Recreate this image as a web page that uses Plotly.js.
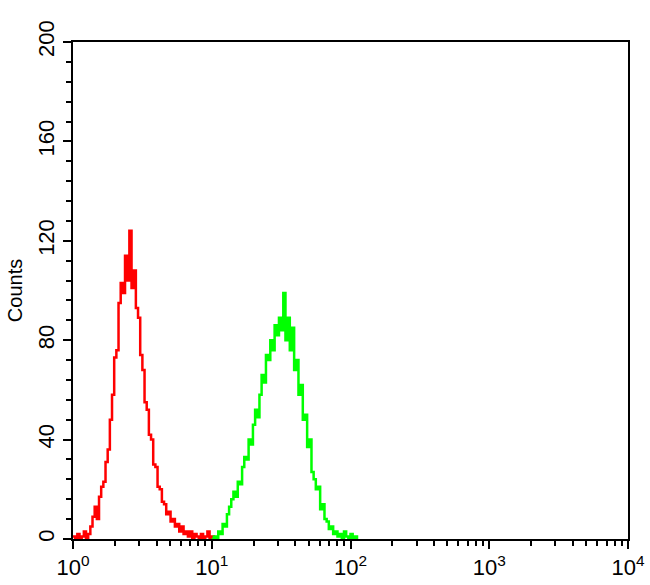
<!DOCTYPE html>
<html>
<head>
<meta charset="utf-8">
<script src="https://cdn.plot.ly/plotly-3.0.1.min.js"></script>
<style>html,body{margin:0;padding:0;background:#fff;}#chart{width:650px;height:585px;}</style>
</head>
<body>
<div id="chart"></div>
<script>
// Flow cytometry histogram: counts per channel, 256 channels spanning 10^0 .. 10^4
const channelsPerDecade = 64;
const decadeLabels = ["10<sup>0</sup>", "10<sup>1</sup>", "10<sup>2</sup>", "10<sup>3</sup>", "10<sup>4</sup>"];
const yLabels = [0, 40, 80, 120, 160, 200];

// Red (control) histogram, starting at channel 0
const redStart = 0;
const redCounts = [1,0,2,0,1,3,0,2,5,9,13,8,17,21,23,31,36,48,58,73,76,95,103,99,114,104,124,101,108,93,89,74,68,55,52,42,40,30,29,21,20,15,14,10,11,7,8,5,6,3,5,2,3,1,3,0,2,1,0,2,0,1,3,0,1,0,0];

// Green (antibody) histogram, starting at channel 64
const greenStart = 64;
const greenCounts = [0,1,0,3,2,6,5,10,13,16,19,17,23,22,29,33,32,40,38,46,52,49,58,66,63,74,72,80,76,86,82,89,84,99,80,89,76,85,68,72,58,62,48,50,37,40,27,24,20,21,12,14,8,7,4,5,2,3,1,2,0,3,1,0,2,0,1,0];

const nDecades = decadeLabels.length - 1;
const xMajor = [], xMinor = [];
for (let d = 0; d <= nDecades; d++) {
  xMajor.push(d * channelsPerDecade);
  if (d < nDecades) for (let k = 2; k <= 9; k++) xMinor.push(channelsPerDecade * (d + Math.log10(k)));
}
const yMinor = [];
for (let v = 0; v <= 200; v += 8) if (v % 40 !== 0) yMinor.push(v);

const traces = [
  {type: 'scatter', mode: 'lines', x0: redStart, dx: 1, y: redCounts,
   line: {color: 'rgb(255,0,0)', width: 2.5, shape: 'hv'}, hoverinfo: 'skip'},
  {type: 'scatter', mode: 'lines', x0: greenStart, dx: 1, y: greenCounts,
   line: {color: 'rgb(0,255,0)', width: 2.5, shape: 'hv'}, hoverinfo: 'skip'}
];

const font = 'Liberation Sans, Arial, sans-serif';
const layout = {
  width: 650, height: 585,
  margin: {l: 73, r: 22, t: 42, b: 46},
  paper_bgcolor: '#fff', plot_bgcolor: '#fff',
  showlegend: false,
  font: {family: font, color: '#000'},
  xaxis: {
    range: [0, nDecades * channelsPerDecade], showgrid: false, zeroline: false,
    showline: true, linecolor: '#000', linewidth: 2, mirror: true,
    tickmode: 'array', tickvals: xMajor, ticktext: decadeLabels,
    ticks: 'outside', ticklen: 8, tickwidth: 2, tickcolor: '#000',
    tickfont: {family: font, size: 22, color: '#000'},
    minor: {tickmode: 'array', tickvals: xMinor, ticks: 'outside', ticklen: 5, tickwidth: 2, tickcolor: '#000', showgrid: false}
  },
  yaxis: {
    range: [0, 200], showgrid: false, zeroline: false,
    showline: true, linecolor: '#000', linewidth: 2, mirror: true,
    tickmode: 'array', tickvals: yLabels, ticktext: yLabels.map(String),
    ticks: 'outside', ticklen: 8, tickwidth: 2, tickcolor: '#000', tickangle: -90,
    tickfont: {family: font, size: 22, color: '#000'},
    minor: {tickmode: 'array', tickvals: yMinor, ticks: 'outside', ticklen: 5, tickwidth: 2, tickcolor: '#000', showgrid: false},
    title: {text: 'Counts', font: {family: font, size: 20, color: '#000'}, standoff: 6}
  }
};

Plotly.newPlot('chart', traces, layout, {staticPlot: true, displayModeBar: false});
</script>
</body>
</html>
